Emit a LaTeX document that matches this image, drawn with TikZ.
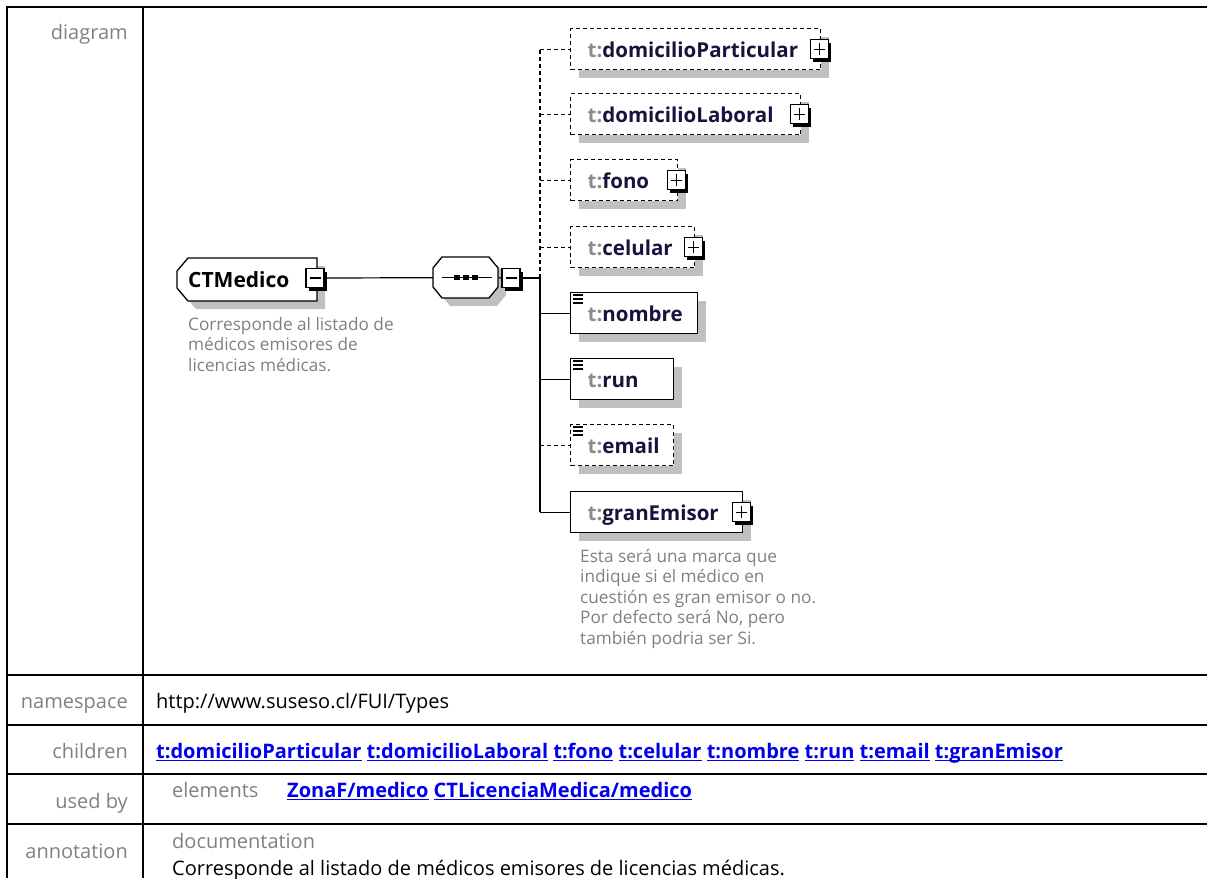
\documentclass[tikz,border=0pt]{standalone}
\usepackage{fontspec}
\setmainfont{Open Sans}
\usetikzlibrary{positioning,shadows}

\definecolor{labgray}{HTML}{808080}
\definecolor{shgray}{HTML}{C0C0C0}
\definecolor{pfxgray}{HTML}{8C8C8C}
\definecolor{elnavy}{HTML}{14143C}
\definecolor{linkblue}{HTML}{0000EE}

\newcommand{\pfx}{\textcolor{pfxgray}{t:}}
\newcommand{\xlink}[1]{\setbox0\hbox{#1}\rlap{\rule[-3pt]{\wd0}{1.4pt}}\box0\relax}

\tikzset{
  tline/.style={line width=2pt},
  rowfont/.style={font=\fontsize{20}{24}\selectfont},
  rowlabel/.style={rowfont, anchor=base east, inner sep=0pt, text=labgray},
  rowtext/.style={rowfont, anchor=base west, inner sep=0pt},
  rowlink/.style={rowtext, font=\fontsize{20}{24}\selectfont\bfseries, text=linkblue},
  shade8/.style={drop shadow={shadow xshift=8pt, shadow yshift=-8pt, fill=shgray, opacity=1}},
  frame/.style={shade8, draw, fill=white, line width=1.3pt},
  elembox/.style={shade8, draw, fill=white, line width=1.3pt, anchor=north west,
    minimum height=41pt, inner xsep=17pt, inner ysep=0pt, text height=17pt, text depth=0pt,
    font=\fontsize{20.5}{24}\selectfont\bfseries, text=elnavy, align=left},
  optbox/.style={elembox, dash pattern=on 4pt off 3pt},
  cplxlabel/.style={anchor=north west, minimum width=140pt, minimum height=43pt, inner sep=0pt,
    text height=15pt, text depth=0pt, font=\fontsize{21}{24}\selectfont\bfseries},
  seqlabel/.style={anchor=north west, minimum width=65pt, minimum height=41pt, inner sep=0pt},
  btn/.style={draw, fill=white, line width=1.3pt, minimum width=18pt, minimum height=19pt, inner sep=0pt,
    drop shadow={shadow xshift=3pt, shadow yshift=-3pt, fill=black, opacity=1}},
  minusbtn/.style={btn, path picture={\draw[line width=1.3pt] ([xshift=3.5pt]path picture bounding box.west) -- ([xshift=-3.5pt]path picture bounding box.east);}},
  plusbtn/.style={btn, path picture={\draw[line width=1.3pt] ([xshift=3.5pt]path picture bounding box.west) -- ([xshift=-3.5pt]path picture bounding box.east) ([yshift=3.5pt]path picture bounding box.south) -- ([yshift=-3.5pt]path picture bounding box.north);}},
  note/.style={anchor=north west, align=left, inner sep=0pt, text=labgray, font=\fontsize{17.2}{20.5}\selectfont},
  conn/.style={line width=1.2pt},
  optconn/.style={conn, dash pattern=on 4pt off 3pt}
}

\begin{document}
\begin{tikzpicture}[x=1pt,y=-1pt]
\useasboundingbox (0,0) rectangle (1207,878);

% table frame
\draw[tline] (7,878) -- (7,7) -- (1207,7);
\draw[tline] (143,7) -- (143,878);
\foreach \ry in {675,725,774,824}
  \draw[tline] (7,\ry) -- (1207,\ry);

% row labels
\node[rowlabel] (lbldiagram) at (128,39) {diagram};
\node[rowlabel] (lblns) at (128,708) {namespace};
\node[rowlabel] (lblchildren) at (128,758) {children};
\node[rowlabel] (lblusedby) at (128,808) {used by};
\node[rowlabel] (lblannot) at (128,858) {annotation};

% row contents
\node[rowtext] (nsval) at (156,708) {http://www.suseso.cl/FUI/Types};
\node[rowlink] (childval) at (156,758) {\xlink{t:domicilioParticular} \xlink{t:domicilioLaboral} \xlink{t:fono} \xlink{t:celular} \xlink{t:nombre} \xlink{t:run} \xlink{t:email} \xlink{t:granEmisor}};
\node[rowtext, text=labgray] (elemlbl) at (172,797) {elements};
\node[rowlink] (usedval) at (287,797) {\xlink{ZonaF/medico} \xlink{CTLicenciaMedica/medico}};
\node[rowtext, text=labgray] (doclbl) at (172,848) {documentation};
\node[rowtext] (docval) at (172,875) {Corresponde al listado de médicos emisores de licencias médicas.};

% diagram: complex type
\draw[frame] (188,258) -- (317,258) -- (317,301) -- (188,301) -- (177,288) -- (177,271) -- cycle;
\node[cplxlabel] (ctmedico) at (177,258) {\makebox[118pt][l]{CTMedico}};
\node[minusbtn] (ctbtn) at (315,278) {};
\node[note] (ctnote) at (188,317) {Corresponde al listado de\\médicos emisores de\\licencias médicas.};

% sequence
\draw[frame] (442,257) -- (489,257) -- (498,268) -- (498,287) -- (489,298) -- (442,298) -- (433,287) -- (433,268) -- cycle;
\node[seqlabel] (seq) at (433,257) {};
\node[minusbtn] (seqbtn) at (511,278) {};
\draw[line width=1.3pt] ([xshift=-24pt]seq.center) -- ([xshift=26pt]seq.center);
\foreach \dx in {-12,-3,6}
  \fill ([xshift=\dx pt,yshift=-2.5pt]seq.center) rectangle ++(6pt,5pt);

% children
\node[optbox, text width=216pt] (dompart) at (570,28) {\pfx domicilioParticular};
\node[optbox, text width=196pt] (domlab) at (570,93) {\pfx domicilioLaboral};
\node[optbox, text width=73pt] (fono) at (570,159) {\pfx fono};
\node[optbox, text width=90pt] (celular) at (570,226) {\pfx celular};
\node[elembox, text width=93pt] (nombre) at (570,292) {\pfx nombre};
\node[elembox, text width=69pt] (run) at (570,358) {\pfx run};
\node[optbox, text width=69pt] (email) at (570,424) {\pfx email};
\node[elembox, text width=138pt] (granemisor) at (570,491) {\pfx granEmisor};
\node[note] (gennote) at (580,549) {Esta será una marca que\\indique si el médico en\\cuestión es gran emisor o no.\\Por defecto será No, pero\\también podria ser Si.};

\foreach \el in {dompart,domlab,fono,celular,granemisor}
  \node[plusbtn] (p\el) at ([xshift=-2pt]\el.east) {};
\foreach \el in {nombre,run,email}
  \foreach \dy in {3pt,7pt,11pt}
    \draw[line width=1.2pt] ([xshift=3pt,yshift=-\dy]\el.north west) -- ++(10pt,0pt);

% connectors
\coordinate (bus) at (540,278);
\draw[conn] (ctbtn.east) -- (seq.west);
\draw[conn] (seq.east) -- (seqbtn.west);
\draw[conn] (seqbtn.east) -- (bus);
\draw[optconn] (bus) -- (bus |- dompart.west);
\draw[conn] (bus) -- (bus |- granemisor.west);
\foreach \el in {dompart,domlab,fono,celular,email}
  \draw[optconn] (bus |- \el.west) -- (\el.west);
\foreach \el in {nombre,run,granemisor}
  \draw[conn] (bus |- \el.west) -- (\el.west);
\end{tikzpicture}
\end{document}
